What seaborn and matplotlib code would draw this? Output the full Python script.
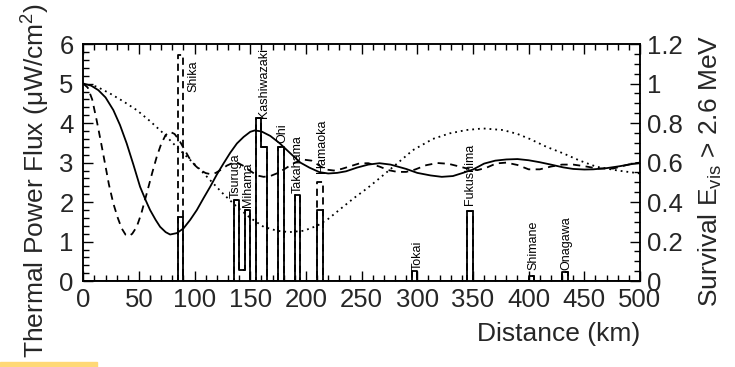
import numpy as np
import pandas as pd
import matplotlib
matplotlib.use("Agg")
import matplotlib.pyplot as plt
from matplotlib.ticker import MultipleLocator, FuncFormatter
from matplotlib.patches import Rectangle
import seaborn as sns

# ---------------- data ----------------
# reactor flux histogram (bin centres in km, flux in uW/cm^2)
hist_dist = [87.5, 137.5, 142.5, 147.5, 157.5, 162.5, 177.5, 192.5, 212.5, 297.5, 347.5, 402.5, 432.5]
flux_solid = [1.62, 2.05, 0.28, 1.80, 4.13, 3.40, 3.39, 2.18, 1.79, 0.26, 1.77, 0.12, 0.24]
flux_dashed = [5.72, 2.05, 0.28, 1.80, 4.13, 3.40, 3.39, 2.18, 2.51, 0.26, 1.77, 0.12, 0.24]

reactor_names = ["Shika", "Tsuruga", "Mihama", "Kashiwazaki", "Ohi", "Takahama",
                 "Hamaoka", "Tokai", "Fukushima", "Shimane", "Onagawa"]

# survival curves (distance km, survival probability)
solid_L = [0, 7, 13.5, 20, 27, 33, 39, 45, 51, 56, 60, 65, 69, 74, 78, 84, 90, 96, 102, 108,
           114, 120, 126, 132, 138, 144, 150, 154, 160, 168, 176, 186, 195, 203, 212, 220, 228,
           236, 246, 256, 266, 276, 290, 300, 312, 322, 332, 341, 350, 360, 370, 380, 390, 400,
           410, 420, 431, 440, 450, 458, 470, 482, 492, 500]
solid_P = [1.0, 0.99, 0.967, 0.93, 0.866, 0.79, 0.697, 0.59, 0.478, 0.41, 0.36, 0.31, 0.275,
           0.248, 0.236, 0.243, 0.267, 0.31, 0.36, 0.42, 0.478, 0.54, 0.596, 0.65, 0.697, 0.73,
           0.756, 0.763, 0.758, 0.735, 0.70, 0.647, 0.60, 0.575, 0.552, 0.545, 0.548, 0.556,
           0.575, 0.59, 0.597, 0.59, 0.568, 0.548, 0.535, 0.528, 0.532, 0.548, 0.565, 0.595,
           0.61, 0.616, 0.618, 0.612, 0.602, 0.59, 0.576, 0.568, 0.565, 0.566, 0.572, 0.582,
           0.592, 0.598]

dashed_L = [0, 4, 8, 12, 16, 19.5, 23, 27, 31, 34.5, 38, 41, 44, 48, 52, 57, 62, 66, 70, 74,
            78, 82, 86, 90, 95, 100, 105, 110, 114, 119, 124, 129, 134, 139, 145, 150, 156,
            162, 168, 175, 182, 190, 198, 205, 212, 218, 225, 232, 240, 248, 256, 266, 274,
            282, 290, 298, 308, 318, 328, 338, 346, 354, 362, 371, 380, 390, 400, 410, 420,
            430, 440, 450, 462, 476, 486, 494, 500]
dashed_P = [1.0, 0.98, 0.92, 0.815, 0.70, 0.596, 0.49, 0.393, 0.32, 0.267, 0.235, 0.228, 0.24,
            0.275, 0.34, 0.444, 0.55, 0.63, 0.695, 0.74, 0.756, 0.745, 0.715, 0.675, 0.625,
            0.588, 0.562, 0.547, 0.542, 0.548, 0.565, 0.585, 0.598, 0.598, 0.58, 0.558, 0.535,
            0.528, 0.532, 0.548, 0.572, 0.60, 0.615, 0.61, 0.585, 0.565, 0.56, 0.568, 0.582,
            0.596, 0.597, 0.58, 0.562, 0.553, 0.553, 0.565, 0.587, 0.598, 0.594, 0.58, 0.568,
            0.562, 0.574, 0.596, 0.600, 0.588, 0.566, 0.566, 0.58, 0.59, 0.59, 0.582, 0.57,
            0.57, 0.585, 0.596, 0.6]

dotted_L = [0, 12, 24, 36, 48, 60, 72, 82, 93, 104, 114, 126, 138, 150, 162, 174, 185, 198,
            210, 220, 232, 243, 255, 267, 282, 296, 314, 329, 344, 359, 377, 390, 401, 416,
            431, 446, 461, 480, 500]
dotted_P = [1.0, 0.985, 0.95, 0.91, 0.866, 0.81, 0.748, 0.69, 0.63, 0.57, 0.511, 0.44, 0.376,
            0.32, 0.275, 0.255, 0.248, 0.255, 0.28, 0.315, 0.37, 0.42, 0.47, 0.525, 0.596,
            0.663, 0.72, 0.748, 0.765, 0.773, 0.765, 0.745, 0.72, 0.68, 0.647, 0.61, 0.579,
            0.56, 0.545]

hist_df = pd.DataFrame({"dist": hist_dist, "solid": flux_solid, "dashed": flux_dashed})

# ---------------- layout / style ----------------
sns.set_style("white")
plt.rcParams["font.family"] = ["Liberation Sans", "DejaVu Sans"]
plt.rcParams["mathtext.fontset"] = "custom"
plt.rcParams["mathtext.rm"] = "Liberation Sans"
plt.rcParams["mathtext.it"] = "Liberation Sans"
plt.rcParams["mathtext.default"] = "regular"

fig = plt.figure(figsize=(7.35, 3.67), dpi=100)
ax = fig.add_axes([0.1133, 0.234, 0.7574, 0.6458])
ax2 = ax.twinx()

LW = 1.3

sns.histplot(data=hist_df, x="dist", weights="dashed", binwidth=5, binrange=(0, 500),
             element="step", fill=False, color="black", linestyle=(0, (4, 2.5)),
             linewidth=LW, ax=ax)
sns.histplot(data=hist_df, x="dist", weights="solid", binwidth=5, binrange=(0, 500),
             element="step", fill=False, color="black", linestyle="-", linewidth=LW, ax=ax)

sns.lineplot(x=dotted_L, y=dotted_P, ax=ax2, color="black", linestyle=(0, (1, 2.2)),
             linewidth=LW, sort=False)
sns.lineplot(x=dashed_L, y=dashed_P, ax=ax2, color="black", linestyle=(0, (4, 3)),
             linewidth=LW, sort=False)
sns.lineplot(x=solid_L, y=solid_P, ax=ax2, color="black", linestyle="-", linewidth=LW,
             sort=False)

# reactor labels: placed just above each reactor's bar
label_x = [98.5, 137, 148, 162, 178.5, 193, 214, 300, 347.5, 404, 434]
label_y = [4.79, 2.10, 1.87, 4.13, 3.49, 2.23, 2.73, 0.28, 1.92, 0.28, 0.28]
for name, lx, ly in zip(reactor_names, label_x, label_y):
    ax.text(lx, ly, name, rotation=90, ha="center", va="bottom", fontsize=9, color="black")

ax.set_xlim(0, 500)
ax.set_ylim(0, 6)
ax2.set_ylim(0, 1.2)

ax.xaxis.set_major_locator(MultipleLocator(50))
ax.xaxis.set_minor_locator(MultipleLocator(10))
ax.yaxis.set_major_locator(MultipleLocator(1))
ax.yaxis.set_minor_locator(MultipleLocator(0.2))
ax2.yaxis.set_major_locator(MultipleLocator(0.2))
ax2.yaxis.set_minor_locator(MultipleLocator(0.05))
ax2.yaxis.set_major_formatter(FuncFormatter(lambda v, p: "%g" % round(v, 2)))

TS = 18.5
ax.tick_params(axis="x", which="both", direction="in", top=True, bottom=True,
               labelsize=TS, pad=5, width=1.0, color="black")
ax.tick_params(axis="y", which="both", direction="in", left=True, right=False,
               labelsize=TS, pad=7, width=1.0, color="black")
ax2.tick_params(axis="y", which="both", direction="in", left=False, right=True,
                labelsize=TS, pad=5, width=1.0, color="black")
for a in (ax, ax2):
    a.tick_params(which="major", length=7.5)
    a.tick_params(which="minor", length=4.5)

for a in (ax, ax2):
    for s in a.spines.values():
        s.set_linewidth(1.1)
        s.set_color("black")

ax.set_xlabel("Distance (km)", fontsize=19, loc="right", labelpad=7.5)
ax.set_ylabel("Thermal Power Flux (\u03bcW/cm$^2$)", fontsize=19)
ax2.set_ylabel("Survival E$_{vis}$ > 2.6 MeV", fontsize=19)
ax.yaxis.set_label_coords(-0.0555, 0.426)
ax2.yaxis.set_label_coords(1.102, 0.464)

fig.patches.append(Rectangle((0, 0), 97 / 735, 5 / 367, transform=fig.transFigure,
                             color="#FFD876", zorder=0))

fig.savefig("out.png", dpi=100)
